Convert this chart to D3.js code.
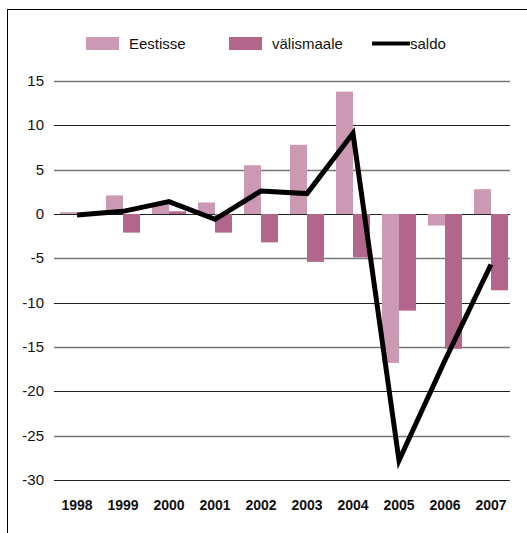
<!DOCTYPE html>
<html><head><meta charset="utf-8">
<script src="https://cdn.jsdelivr.net/npm/d3@7"></script>
<style>body{margin:0;background:#fff}svg{display:block;font-family:"Liberation Sans",Arial,sans-serif}</style>
</head><body><svg id="c" width="527" height="533"></svg>
<script>
const years = ["1998","1999","2000","2001","2002","2003","2004","2005","2006","2007"];
const eestisse = [0.2, 2.1, 1.2, 1.3, 5.5, 7.8, 13.8, -16.8, -1.3, 2.8];
const valismaale = [0.05, -2.1, 0.3, -2.1, -3.2, -5.4, -4.9, -10.9, -15.2, -8.6];
const saldo = [-0.1, 0.3, 1.4, -0.6, 2.6, 2.3, 9.1, -27.8, -16.5, -5.7];
const yTicks = [15, 10, 5, 0, -5, -10, -15, -20, -25, -30];
const seriesNames = ["Eestisse", "välismaale", "saldo"];
const colors = ["#cc99b4", "#b2668b", "#000000"];

const svg = d3.select("#c");
svg.append("rect").attr("x",7.5).attr("y",9.5).attr("width",540).attr("height",540)
  .attr("fill","none").attr("stroke","#000").attr("stroke-width",1);

const y = d3.scaleLinear().domain([-30,15]).range([480,81]);
const x = d3.scaleBand().domain(years).range([54,514]).paddingInner(0.26).paddingOuter(0.13);
const xc = d => x(d) + x.bandwidth()/2;

// grid
svg.append("g").selectAll("line").data(yTicks).join("line")
  .attr("x1",54).attr("x2",510)
  .attr("y1",d=>Math.round(y(d))+0.5).attr("y2",d=>Math.round(y(d))+0.5)
  .attr("stroke",d=>(Math.abs(d)%10===5)?"#777":"#222")
  .attr("stroke-width",d=>(Math.abs(d)%10===5)?1.6:1.2);

// y labels
svg.append("g").selectAll("text").data(yTicks).join("text")
  .attr("x",44).attr("y",d=>y(d)+5).attr("text-anchor","end")
  .attr("font-size",15).attr("fill","#111").text(d=>d);

// bars
const bw = x.bandwidth()/2;
svg.append("g").selectAll("rect").data(eestisse).join("rect")
  .attr("x",(d,i)=>x(years[i])).attr("width",bw)
  .attr("y",d=>y(Math.max(0,d))).attr("height",d=>Math.abs(y(d)-y(0)))
  .attr("fill",colors[0]);
svg.append("g").selectAll("rect").data(valismaale).join("rect")
  .attr("x",(d,i)=>x(years[i])+bw).attr("width",bw)
  .attr("y",d=>y(Math.max(0,d))).attr("height",d=>Math.abs(y(d)-y(0)))
  .attr("fill",colors[1]);

// line
const line = d3.line().x((d,i)=>xc(years[i])).y(d=>y(d));
svg.append("path").datum(saldo).attr("d",line).attr("fill","none")
  .attr("stroke","#000").attr("stroke-width",5).attr("stroke-linejoin","miter");

// x labels
svg.append("g").selectAll("text").data(years).join("text")
  .attr("x",d=>xc(d)).attr("y",510).attr("text-anchor","middle")
  .attr("font-size",14).attr("font-weight","bold").attr("fill","#111").text(d=>d);

// legend
const lg = svg.append("g");
lg.append("rect").attr("x",86).attr("y",37).attr("width",33).attr("height",13).attr("fill",colors[0]);
lg.append("text").attr("x",129).attr("y",49).attr("font-size",15).attr("fill","#111").text(seriesNames[0]);
lg.append("rect").attr("x",229).attr("y",37).attr("width",33).attr("height",13).attr("fill",colors[1]);
lg.append("text").attr("x",272).attr("y",49).attr("font-size",15).attr("fill","#111").text(seriesNames[1]);
lg.append("line").attr("x1",372).attr("x2",410).attr("y1",43.5).attr("y2",43.5).attr("stroke","#000").attr("stroke-width",4);
lg.append("text").attr("x",410).attr("y",49).attr("font-size",15).attr("fill","#111").text(seriesNames[2]);
</script></body></html>
